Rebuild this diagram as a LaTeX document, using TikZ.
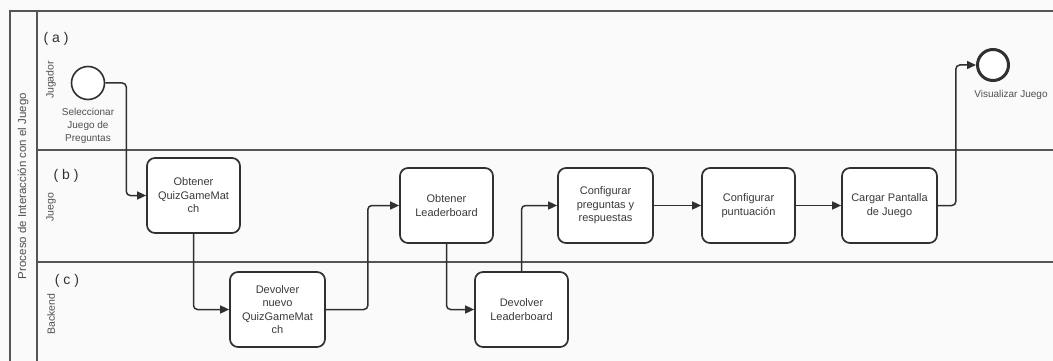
\documentclass[tikz,border=0pt]{standalone}
\usepackage{fontspec}
\setmainfont{Liberation Sans}
\usetikzlibrary{arrows.meta}
\definecolor{bgc}{HTML}{FAFAFA}
\definecolor{lanec}{HTML}{555555}
\definecolor{boxc}{HTML}{303030}
\definecolor{txtc}{HTML}{3A3A3A}
\definecolor{lblc}{HTML}{505050}
\tikzset{
  lane/.style={draw=lanec, line width=1.5pt},
  task/.style={draw=boxc, fill=white, line width=1.7pt, rounded corners=8pt,
    minimum width=93pt, minimum height=75pt, align=center, text=txtc,
    font=\fontsize{11}{13.5}\selectfont, inner sep=2pt},
  startev/.style={circle, draw=boxc, fill=white, line width=1.6pt, minimum size=33pt, inner sep=0pt},
  endev/.style={circle, draw=boxc, fill=white, line width=3pt, minimum size=31pt, inner sep=0pt},
  evlabel/.style={align=center, text=lblc, font=\fontsize{10}{13}\selectfont, inner sep=0pt},
  lanelabel/.style={rotate=90, text=lblc, font=\fontsize{10.5}{12}\selectfont, inner sep=0pt},
  tag/.style={text=boxc, font=\fontsize{14}{16}\selectfont, inner sep=0pt},
  flow/.style={draw=boxc, line width=1.5pt, rounded corners=4pt,
    -{Triangle[length=9pt,width=8pt]}}
}
\begin{document}
\begin{tikzpicture}[x=1pt, y=-1pt]
\useasboundingbox (0,0) rectangle (1053,361);
\fill[bgc] (0,0) rectangle (1053,361);

% pool and lanes
\draw[lane] (10,361) -- (10,11) -- (1053,11);
\draw[lane] (37,11) -- (37,361);
\draw[lane] (37,150) -- (1053,150);
\draw[lane] (37,262) -- (1053,262);

\node[lanelabel, font=\fontsize{11.5}{13}\selectfont] (pool) at (23,186) {Proceso de Interacción con el Juego};
\node[lanelabel] (lj) at (51,80) {Jugador};
\node[lanelabel] (lg) at (51,207) {Juego};
\node[lanelabel] (lb) at (51,314) {Backend};

\node[tag] (ta) at (56,39) {( a )};
\node[tag] (tb) at (66,176) {( b )};
\node[tag] (tc) at (67,281) {( c )};

% events
\node[startev] (start) at (88,83) {};
\node[evlabel] (startlbl) at (88,126) {Seleccionar\\Juego de\\Preguntas};
\node[endev] (end) at (993,65) {};
\node[evlabel] (endlbl) at (1011,95) {Visualizar Juego};

% tasks
\node[task] (t1) at (193.5,195.5) {Obtener\\QuizGameMat\\ch};
\node[task, minimum width=95pt] (t2) at (277.5,309.5) {Devolver\\nuevo\\QuizGameMat\\ch};
\node[task] (t3) at (446.5,205.5) {Obtener\\Leaderboard};
\node[task] (t4) at (521.5,309.5) {Devolver\\Leaderboard};
\node[task, minimum width=95pt] (t5) at (605.5,205.5) {Configurar\\preguntas y\\respuestas};
\node[task] (t6) at (748.5,205.5) {Configurar\\puntuación};
\node[task, minimum width=95pt] (t7) at (889.5,205.5) {Cargar Pantalla\\de Juego};

% sequence flows
\draw[flow] (start.east) -- ++(21,0) |- (t1.west);
\draw[flow] (t1.south) |- (t2.west);
\draw[flow] (t2.east) -- ++(42,0) |- (t3.west);
\draw[flow] (t3.south) |- (t4.west);
\draw[flow] (t4.north) |- (t5.west);
\draw[flow] (t5.east) -- (t6.west);
\draw[flow] (t6.east) -- (t7.west);
\draw[flow] (t7.east) -- ++(18,0) |- (end.west);
\end{tikzpicture}
\end{document}
